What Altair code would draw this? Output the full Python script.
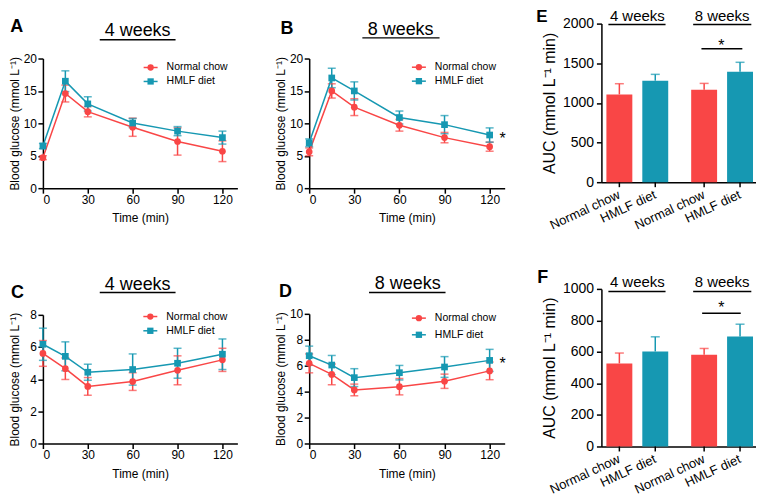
import altair as alt
import pandas as pd

FONT = "Liberation Sans"

# ---------------- data ----------------
times = [0, 15, 30, 60, 90, 120]
groups = ["Normal chow", "HMLF diet"]
weeks = ["4 weeks", "8 weeks"]
colors = ["#F94646", "#1698B2"]
shapes = ["circle", "square"]

# A: OGTT, 4 weeks
a_nc = [4.7, 14.6, 11.8, 9.4, 7.2, 5.7]
a_nc_sd = [0.3, 1.3, 0.8, 1.4, 2.1, 1.6]
a_hm = [6.5, 16.5, 13.0, 10.05, 8.8, 7.8]
a_hm_sd = [0.4, 1.6, 1.1, 0.7, 0.7, 1.0]
# B: OGTT, 8 weeks
b_nc = [5.6, 15.0, 12.5, 9.7, 7.8, 6.4]
b_nc_sd = [0.6, 1.1, 1.3, 0.9, 0.8, 0.7]
b_hm = [7.0, 17.0, 15.0, 10.9, 9.8, 8.2]
b_hm_sd = [0.6, 1.5, 1.4, 1.0, 1.4, 1.1]
# C: ITT, 4 weeks
c_nc = [5.6, 4.65, 3.55, 3.85, 4.55, 5.2]
c_nc_sd = [0.8, 0.67, 0.55, 0.55, 0.9, 0.72]
c_hm = [6.17, 5.42, 4.43, 4.6, 4.99, 5.55]
c_hm_sd = [1.0, 0.9, 0.5, 0.97, 0.93, 0.95]
# D: ITT, 8 weeks
d_nc = [6.18, 5.33, 4.13, 4.38, 4.8, 5.6]
d_nc_sd = [0.73, 0.8, 0.45, 0.63, 0.55, 0.68]
d_hm = [6.77, 6.05, 5.08, 5.46, 5.9, 6.41]
d_hm_sd = [0.74, 0.74, 0.69, 0.56, 0.8, 0.85]
# E: AUC OGTT (NC 4w, HMLF 4w, NC 8w, HMLF 8w)
e_auc = [1107, 1280, 1166, 1394]
e_sd = [135, 80, 80, 118]
# F: AUC ITT
f_auc = [527, 603, 582, 698]
f_sd = [66, 93, 40, 78]

color_scale = alt.Scale(domain=groups, range=colors)
shape_scale = alt.Scale(domain=groups, range=shapes)


def txt(s, x, y, size, bold=False, align="center"):
    return alt.Chart(pd.DataFrame({"t": [s]})).mark_text(
        fontSize=size, font=FONT, fontWeight="bold" if bold else "normal",
        align=align, baseline="middle", color="black"
    ).encode(text="t:N", x=alt.value(x), y=alt.value(y))


def hline(x1, x2, y):
    return alt.Chart(pd.DataFrame({"a": [0]})).mark_rule(
        strokeWidth=1.5, color="black"
    ).encode(x=alt.value(x1), x2=alt.value(x2), y=alt.value(y))


def line_panel(nc, nc_sd, hm, hm_sd, ymax, ystep, width, xrange, height, yrange,
               letter, letter_pos, title, title_pos, uline, legend_pos, legend_gap,
               star=None):
    rows = []
    for g, vals, sds in [(groups[0], nc, nc_sd), (groups[1], hm, hm_sd)]:
        for t, v, s in zip(times, vals, sds):
            rows.append({"time": t, "group": g, "value": v, "lo": v - s, "hi": v + s})
    df = pd.DataFrame(rows)
    xs = alt.Scale(domain=[0, 130], range=xrange, nice=False)
    ys = alt.Scale(domain=[0, ymax], range=yrange, nice=False)
    xax = alt.Axis(values=[0, 30, 60, 90, 120], title="Time (min)", labelFontSize=12,
                   titleFontSize=12, titleX=(xrange[0] + xrange[1]) / 2, titleY=24.8,
                   titleBaseline="top", labelPadding=1.5)
    yax = alt.Axis(values=list(range(0, ymax + 1, ystep)), title="Blood glucose (mmol L⁻¹)",
                   labelFontSize=12, titleFontSize=12, titleAngle=270, titleBaseline="bottom",
                   titleX=-21.6, titleY=(yrange[0] + yrange[1]) / 2, labelPadding=1.5)
    color = alt.Color("group:N", scale=color_scale, legend=None)
    shape = alt.Shape("group:N", scale=shape_scale, legend=None)
    X = alt.X("time:Q", scale=xs, axis=xax)
    base = alt.Chart(df)
    err = base.mark_rule(strokeWidth=1.5).encode(
        x=X, y=alt.Y("lo:Q", scale=ys, axis=yax), y2="hi:Q", color=color)
    cap_hi = base.mark_tick(orient="horizontal", size=8, thickness=1.5).encode(
        x=X, y=alt.Y("hi:Q", scale=ys, axis=yax), color=color)
    cap_lo = base.mark_tick(orient="horizontal", size=8, thickness=1.5).encode(
        x=X, y=alt.Y("lo:Q", scale=ys, axis=yax), color=color)
    line = base.mark_line(strokeWidth=1.5).encode(
        x=X, y=alt.Y("value:Q", scale=ys, axis=yax), color=color)
    pts = base.mark_point(filled=True, opacity=1, size=45).encode(
        x=X, y=alt.Y("value:Q", scale=ys, axis=yax), color=color, shape=shape)
    layers = [err, cap_hi, cap_lo, line, pts]
    lx, ly0 = legend_pos
    for i, g in enumerate(groups):
        ly = ly0 + i * legend_gap
        d = alt.Chart(pd.DataFrame({"group": [g]}))
        layers.append(d.mark_rule(strokeWidth=1.5).encode(
            x=alt.value(lx - 7), x2=alt.value(lx + 7), y=alt.value(ly), color=color))
        layers.append(d.mark_point(filled=True, opacity=1, size=40).encode(
            x=alt.value(lx), y=alt.value(ly), color=color, shape=shape))
        layers.append(d.mark_text(align="left", baseline="middle", fontSize=10.5,
                                  font=FONT, color="black").encode(
            x=alt.value(lx + 16), y=alt.value(ly), text="group:N"))
    layers.append(txt(letter, letter_pos[0], letter_pos[1], 18, bold=True))
    layers.append(txt(title, title_pos[0], title_pos[1], 18))
    layers.append(hline(*uline))
    if star is not None:
        layers.append(txt("*", star[0], star[1], 16))
    return alt.layer(*layers).properties(width=width, height=height)


def bar_panel(vals, sds, ymax, ystep, height, letter, letter_pos, letter_size, title_y,
              ulines, sig, star):
    rows = []
    for i, (v, s) in enumerate(zip(vals, sds)):
        rows.append({"week": weeks[i // 2], "group": groups[i % 2], "value": v, "hi": v + s})
    df = pd.DataFrame(rows)
    xs = alt.Scale(domain=weeks, paddingInner=0.153, paddingOuter=0)
    os_ = alt.Scale(domain=groups, paddingInner=0.278, paddingOuter=0.139)
    ys = alt.Scale(domain=[0, ymax], nice=False)
    xax = alt.Axis(labels=False, ticks=False, title=None)
    yax = alt.Axis(values=list(range(0, ymax + 1, ystep)), title="AUC (mmol L⁻¹ min)",
                   format="d", labelFontSize=14, titleFontSize=16, titleAngle=270,
                   titleBaseline="bottom", titleX=-43.9, titleY=height / 2, labelPadding=3)
    X = alt.X("week:N", scale=xs, axis=xax)
    XO = alt.XOffset("group:N", scale=os_)
    color = alt.Color("group:N", scale=color_scale, legend=None)
    base = alt.Chart(df)
    err = base.mark_rule(strokeWidth=1.5).encode(
        x=X, xOffset=XO, y=alt.Y("value:Q", scale=ys, axis=yax), y2="hi:Q", color=color)
    cap = base.mark_tick(orient="horizontal", size=9, thickness=1.5).encode(
        x=X, xOffset=XO, y=alt.Y("hi:Q", scale=ys, axis=yax), color=color)
    bars = base.mark_bar().encode(
        x=X, xOffset=XO, y=alt.Y("value:Q", scale=ys, axis=yax), color=color)
    xticks = base.mark_rule(strokeWidth=1.5, color="black").encode(
        x=X, xOffset=XO, y=alt.value(height), y2=alt.value(height + 5))
    xlabels = base.mark_text(angle=335, align="right", baseline="middle", fontSize=13,
                             font=FONT, color="black").encode(
        x=X, xOffset=XO, y=alt.value(height + 12), text="group:N")
    wtitles = alt.Chart(pd.DataFrame({"week": weeks})).mark_text(
        fontSize=15, font=FONT, color="black", baseline="middle").encode(
        x=X, y=alt.value(title_y), text="week:N")
    layers = [err, cap, bars, xticks, xlabels, wtitles,
              txt(letter, letter_pos[0], letter_pos[1], letter_size, bold=True)]
    for u in ulines:
        layers.append(hline(*u))
    layers.append(hline(*sig))
    layers.append(txt("*", star[0], star[1], 16))
    return alt.layer(*layers).properties(width=157, height=height)


A = line_panel(a_nc, a_nc_sd, a_hm, a_hm_sd, 20, 5, 195, [0, 195], 165, [165, 35],
               "A", (-26.3, 3), "4 weeks", (95, 7.5), (57, 133, 16.3), (108, 44), 14)
B = line_panel(b_nc, b_nc_sd, b_hm, b_hm_sd, 20, 5, 221, [0, 196], 165, [165, 35],
               "B", (-22.2, 5.5), "8 weeks", (91.7, 6.8), (53.3, 130.7, 14.3), (110, 43.7), 14,
               star=(194, 115.5))
C = line_panel(c_nc, c_nc_sd, c_hm, c_hm_sd, 8, 2, 195, [0, 195], 155, [155, 26],
               "C", (-25.5, 4.5), "4 weeks", (95, -4), (57, 133, 3.7), (107.7, 27.7), 14.3)
D = line_panel(d_nc, d_nc_sd, d_hm, d_hm_sd, 10, 2, 221, [0, 196], 155, [155, 25],
               "D", (-23.7, 2.8), "8 weeks", (98.8, -5), (60, 136.7, 3.7), (110, 29.3), 16.7,
               star=(194, 75.5))
E = bar_panel(e_auc, e_sd, 2000, 500, 159, "E", (-59.7, -6.2), 17, -8,
              [(7, 64.3, 1), (92, 150.3, 1)], (100.3, 141.3, 25.3), (120.3, 22))
F = bar_panel(f_auc, f_sd, 1000, 200, 158, "F", (-58.8, -11), 18, -6.5,
              [(7, 64.3, 2.7), (92, 150.3, 2.7)], (101, 139.7, 24.3), (120.3, 19.5))

chart = alt.concat(
    A, B, E, C, D, F, columns=3,
    spacing={"row": 101, "column": 72}, bounds="flush", align="each"
).properties(
    autosize="none",
    padding={"left": 35, "top": 15, "right": 715, "bottom": 475},
    background="white",
).configure_view(stroke=None).configure_axis(
    labelFont=FONT, titleFont=FONT, labelColor="black", titleColor="black",
    domainColor="black", tickColor="black", domainWidth=1.5, tickWidth=1.5,
    tickSize=5, grid=False, titleFontWeight="normal"
)

chart.save("out.html", embed_options={"renderer": "svg", "actions": False})
